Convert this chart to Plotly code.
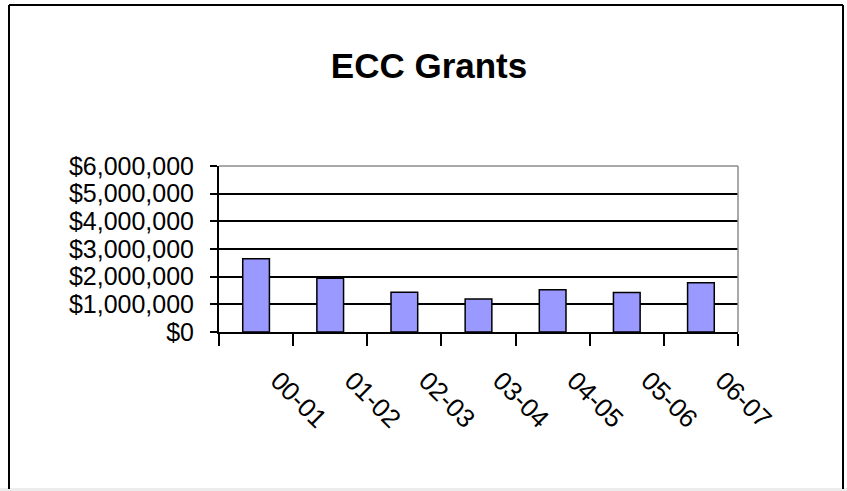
import plotly.graph_objects as go

# fiscal years and grant totals
years = ["00-01", "01-02", "02-03", "03-04", "04-05", "05-06", "06-07"]
grants = [2650000, 1940000, 1440000, 1190000, 1530000, 1430000, 1780000]
yticks = [0, 1000000, 2000000, 3000000, 4000000, 5000000, 6000000]
ylabels = ["$0", "$1,000,000", "$2,000,000", "$3,000,000", "$4,000,000", "$5,000,000", "$6,000,000"]

W, H = 847, 491
L, R, T, B = 219, 738, 166, 332  # plot area in pixels

def px(x):
    return (x - L) / (R - L)

def py(y):
    return (B - y) / (B - T)

fig = go.Figure()
fig.add_trace(go.Bar(
    x=years, y=grants,
    marker=dict(color="#9999FF", line=dict(color="black", width=1.5)),
))

# chart frame like the old excel export
frame = [
    dict(x0=px(9), x1=px(9), y0=py(5), y1=py(489)),
    dict(x0=px(9), x1=px(843), y0=py(5), y1=py(5)),
    dict(x0=px(843), x1=px(843), y0=py(5), y1=py(489)),
]
shapes = []
for f in frame:
    shapes.append(dict(type="line", xref="paper", yref="paper", line=dict(color="black", width=2), **f))
shapes.append(dict(type="rect", xref="paper", yref="paper", x0=px(0), x1=px(847), y0=py(488), y1=py(491),
                   fillcolor="#ececec", line=dict(width=0), layer="below"))
# plot area border (grey on top and right)
shapes.append(dict(type="line", xref="paper", yref="paper", x0=0, x1=1, y0=1, y1=1, line=dict(color="#8c8c8c", width=1.5)))
shapes.append(dict(type="line", xref="paper", yref="paper", x0=1, x1=1, y0=0, y1=1, line=dict(color="#8c8c8c", width=1.5)))

fig.update_layout(
    width=W, height=H,
    margin=dict(l=L, r=W - R, t=T, b=H - B),
    paper_bgcolor="white", plot_bgcolor="white",
    showlegend=False,
    bargap=0.64,
    shapes=shapes,
    title=dict(text="<b>ECC Grants</b>", x=429 / W, xanchor="center", y=1 - 66 / H, yanchor="middle",
               font=dict(family="Liberation Sans, Arial", size=35, color="black")),
    xaxis=dict(
        type="category", tickson="boundaries", ticks="outside", ticklen=12, tickwidth=1.5, tickcolor="black",
        showline=True, linecolor="black", linewidth=2, showgrid=False,
        tickangle=45, ticklabelstandoff=21, ticklabelshift=22,
        tickfont=dict(family="Liberation Sans, Arial", size=26, color="black"),
    ),
    yaxis=dict(
        range=[0, 6000000], tickvals=yticks, ticktext=ylabels,
        ticks="outside", ticklen=7, tickwidth=1.5, tickcolor="black",
        showline=True, linecolor="black", linewidth=2,
        showgrid=True, gridcolor="black", gridwidth=2, zeroline=False,
        ticklabelstandoff=11,
        tickfont=dict(family="Liberation Sans, Arial", size=25, color="black"),
    ),
)

# page has an 8px body margin by default, drop it so the chart sits at 0,0
fig.write_html("out.html", config={"displayModeBar": False},
               post_script="document.body.style.margin='0';")
